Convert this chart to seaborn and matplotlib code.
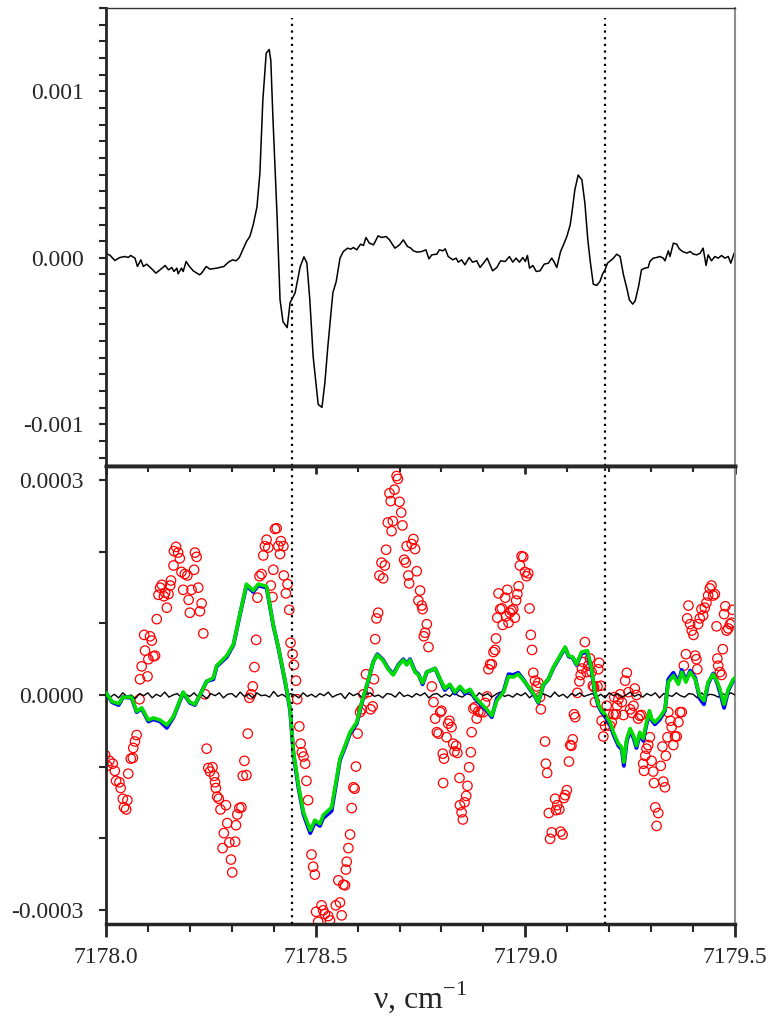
import numpy as np
import pandas as pd
import matplotlib
matplotlib.use("Agg")
import matplotlib.pyplot as plt
import seaborn as sns
from matplotlib.ticker import MultipleLocator, FuncFormatter

# ---------------- data ----------------
# top panel: spectrum (y in units of 1e-4)
top_x = [7178.000, 7178.010, 7178.021, 7178.033, 7178.045, 7178.053, 7178.059, 7178.069,
         7178.075, 7178.083, 7178.089, 7178.097, 7178.109, 7178.119, 7178.129, 7178.141,
         7178.149, 7178.157, 7178.162, 7178.169, 7178.172, 7178.180, 7178.184, 7178.191,
         7178.199, 7178.208, 7178.223, 7178.228, 7178.239, 7178.248, 7178.264, 7178.281,
         7178.292, 7178.302, 7178.310, 7178.318, 7178.328, 7178.335, 7178.343, 7178.351,
         7178.360, 7178.367, 7178.374, 7178.382, 7178.389, 7178.393, 7178.398, 7178.408,
         7178.415, 7178.422, 7178.432, 7178.439, 7178.451, 7178.463, 7178.472, 7178.479,
         7178.486, 7178.494, 7178.506, 7178.515, 7178.522, 7178.529, 7178.541, 7178.549,
         7178.558, 7178.566, 7178.576, 7178.584, 7178.590, 7178.598, 7178.607, 7178.614,
         7178.620, 7178.628, 7178.638, 7178.649, 7178.657, 7178.668, 7178.676, 7178.689,
         7178.700, 7178.709, 7178.719, 7178.727, 7178.733, 7178.742, 7178.753, 7178.763,
         7178.770, 7178.777, 7178.789, 7178.795, 7178.803, 7178.809, 7178.816, 7178.827,
         7178.835, 7178.840, 7178.848, 7178.856, 7178.866, 7178.874, 7178.884, 7178.892,
         7178.902, 7178.909, 7178.922, 7178.932, 7178.941, 7178.952, 7178.962, 7178.970,
         7178.978, 7178.986, 7178.994, 7179.000, 7179.005, 7179.010, 7179.018, 7179.026,
         7179.035, 7179.045, 7179.055, 7179.063, 7179.068, 7179.075, 7179.084, 7179.091,
         7179.099, 7179.107, 7179.111, 7179.118, 7179.126, 7179.135, 7179.142, 7179.149,
         7179.155, 7179.162, 7179.170, 7179.178, 7179.184, 7179.190, 7179.196, 7179.203,
         7179.210, 7179.218, 7179.226, 7179.234, 7179.242, 7179.248, 7179.256, 7179.262,
         7179.270, 7179.277, 7179.285, 7179.293, 7179.297, 7179.305, 7179.313, 7179.321,
         7179.329, 7179.333, 7179.341, 7179.345, 7179.353, 7179.361, 7179.367, 7179.375,
         7179.385, 7179.393, 7179.401, 7179.409, 7179.417, 7179.424, 7179.431, 7179.436,
         7179.444, 7179.452, 7179.460, 7179.468, 7179.476, 7179.484, 7179.490, 7179.498,
         7179.500]
top_y = [0.28, 0.14, -0.16, 0.02, 0.08, 0.02, 0.14, -0.02,
         -0.52, -0.12, -0.52, -0.38, -0.66, -0.92, -0.72, -0.46,
         -0.72, -0.58, -0.82, -0.62, -0.96, -0.62, -0.82, -0.22,
         -0.52, -0.78, -1.02, -0.92, -0.52, -0.68, -0.62, -0.52,
         -0.26, -0.12, -0.18, 0.02, 0.58, 0.98, 1.28, 1.98,
         3.05, 5.09, 9.46, 12.28, 12.51, 11.86, 8.44, 2.46,
         -2.51, -3.83, -4.19, -2.69, -2.10, -0.54, 0.06, -0.30,
         -2.51, -5.93, -8.80, -8.98, -7.49, -5.33, -2.10, -1.42,
         -0.02, 0.38, 0.58, 0.52, 0.62, 0.48, 0.82, 0.74,
         1.22, 0.88, 0.78, 1.32, 1.22, 1.28, 1.08, 0.58,
         0.78, 1.08, 0.68, 0.58, 0.42, 0.34, 0.38, 0.48,
         -0.06, 0.18, 0.22, 0.48, 0.42, 0.54, 0.08, -0.12,
         -0.02, -0.26, -0.12, -0.42, 0.02, -0.26, -0.18, -0.58,
         -0.26, -0.02, -0.78, -0.58, -0.18, -0.22, 0.08, -0.26,
         -0.02, -0.26, 0.02, -0.22, 0.14, -0.62, -0.46, -0.82,
         -0.78, -0.38, -0.32, -0.02, -0.22, -0.58, 0.38, 0.78,
         1.28, 1.98, 2.69, 4.07, 4.97, 4.67, 3.29, 1.08,
         -0.25, -1.58, -1.66, -1.42, -0.98, -0.72, -0.32, -0.18,
         -0.02, 0.22, 0.08, -1.02, -1.82, -2.52, -2.78, -2.58,
         -1.72, -0.72, -0.62, -0.58, -0.22, -0.02, 0.02, 0.08,
         -0.02, -0.18, 0.42, 0.08, 0.88, 0.82, 0.54, 0.38,
         0.28, 0.38, 0.22, 0.18, 0.28, 0.58, -0.46, 0.18,
         -0.18, 0.08, -0.02, 0.14, -0.02, 0.08, -0.32, 0.28,
         0.24]

# bottom panel: fit residuals (green / blue), in units of 1e-4
fit_x = [7178.000, 7178.014, 7178.030, 7178.041, 7178.061, 7178.073, 7178.085, 7178.101,
         7178.113, 7178.129, 7178.145, 7178.161, 7178.184, 7178.200, 7178.212, 7178.224,
         7178.240, 7178.256, 7178.264, 7178.288, 7178.304, 7178.320, 7178.335, 7178.351,
         7178.363, 7178.383, 7178.399, 7178.411, 7178.427, 7178.439, 7178.447, 7178.459,
         7178.471, 7178.487, 7178.498, 7178.510, 7178.518, 7178.538, 7178.558, 7178.570,
         7178.582, 7178.598, 7178.610, 7178.626, 7178.637, 7178.647, 7178.661, 7178.673,
         7178.685, 7178.697, 7178.709, 7178.717, 7178.725, 7178.737, 7178.745, 7178.755,
         7178.765, 7178.785, 7178.797, 7178.808, 7178.820, 7178.832, 7178.844, 7178.856,
         7178.868, 7178.880, 7178.896, 7178.908, 7178.920, 7178.932, 7178.948, 7178.960,
         7178.971, 7178.983, 7178.995, 7179.011, 7179.023, 7179.031, 7179.043, 7179.055,
         7179.067, 7179.079, 7179.095, 7179.103, 7179.113, 7179.122, 7179.134, 7179.148,
         7179.158, 7179.166, 7179.174, 7179.182, 7179.190, 7179.202, 7179.210, 7179.222,
         7179.230, 7179.235, 7179.242, 7179.250, 7179.258, 7179.265, 7179.273, 7179.281,
         7179.289, 7179.296, 7179.301, 7179.309, 7179.321, 7179.333, 7179.341, 7179.353,
         7179.365, 7179.373, 7179.383, 7179.393, 7179.405, 7179.416, 7179.426, 7179.436,
         7179.448, 7179.458, 7179.464, 7179.474, 7179.484, 7179.496, 7179.500]
green_y = [0.03, -0.09, -0.12, -0.03, -0.03, -0.23, -0.18, -0.35,
           -0.32, -0.35, -0.42, -0.30, 0.04, -0.10, -0.13, 0.00,
           0.19, 0.24, 0.41, 0.55, 0.71, 1.15, 1.55, 1.46,
           1.55, 1.52, 0.97, 0.67, 0.20, -0.20, -0.80, -1.27,
           -1.64, -1.89, -1.75, -1.80, -1.68, -1.57, -0.89, -0.71,
           -0.52, -0.38, -0.10, 0.22, 0.46, 0.56, 0.48, 0.36,
           0.28, 0.41, 0.49, 0.42, 0.49, 0.32, 0.28, 0.17,
           0.32, 0.37, 0.22, 0.09, 0.15, 0.04, 0.12, 0.04,
           0.08, -0.03, -0.13, -0.20, -0.29, -0.08, 0.04, 0.26,
           0.25, 0.29, 0.21, 0.09, -0.01, -0.10, 0.15, 0.22,
           0.39, 0.51, 0.67, 0.55, 0.53, 0.43, 0.60, 0.62,
           0.36, 0.04, -0.13, -0.22, -0.27, -0.38, -0.52, -0.68,
           -0.73, -0.94, -0.61, -0.47, -0.57, -0.71, -0.52, -0.61,
           -0.38, -0.22, -0.33, -0.38, -0.31, -0.20, 0.18, 0.27,
           0.15, 0.32, 0.18, 0.32, 0.22, -0.01, -0.08, 0.18,
           0.29, 0.18, 0.08, -0.13, 0.08, 0.22, 0.24]
blue_y = [0.03, -0.10, -0.14, -0.03, -0.04, -0.24, -0.19, -0.37,
          -0.34, -0.37, -0.46, -0.31, 0.03, -0.11, -0.14, 0.00,
          0.19, 0.22, 0.40, 0.53, 0.70, 1.14, 1.53, 1.44,
          1.53, 1.50, 0.97, 0.66, 0.19, -0.21, -0.82, -1.30,
          -1.67, -1.93, -1.78, -1.83, -1.72, -1.62, -0.91, -0.73,
          -0.54, -0.40, -0.11, 0.21, 0.46, 0.57, 0.49, 0.37,
          0.29, 0.42, 0.50, 0.43, 0.50, 0.33, 0.29, 0.15,
          0.32, 0.37, 0.21, 0.07, 0.14, 0.02, 0.11, 0.02,
          0.07, -0.05, -0.15, -0.22, -0.31, -0.05, 0.05, 0.29,
          0.28, 0.31, 0.22, 0.08, -0.02, -0.11, 0.14, 0.22,
          0.38, 0.50, 0.66, 0.54, 0.52, 0.42, 0.58, 0.60,
          0.34, 0.02, -0.15, -0.24, -0.30, -0.41, -0.55, -0.71,
          -0.76, -0.99, -0.64, -0.50, -0.60, -0.74, -0.55, -0.64,
          -0.41, -0.24, -0.35, -0.41, -0.34, -0.22, 0.22, 0.31,
          0.18, 0.35, 0.20, 0.34, 0.24, -0.05, -0.13, 0.16,
          0.30, 0.16, 0.04, -0.18, 0.06, 0.21, 0.23]

# bottom panel: noise baseline (step 0.01 cm-1), units of 1e-4
noise_x0, noise_step = 7178.0, 0.01
noise_y = [0.02, -0.03, 0.01, -0.04, 0.03, -0.02, 0.00, -0.05, 0.02, -0.01,
           0.03, -0.04, 0.01, -0.02, 0.04, -0.03, 0.00, 0.02, -0.04, 0.01,
           -0.02, 0.03, -0.03, 0.00, -0.05, 0.02, -0.01, 0.03, -0.04, 0.01,
           0.02, -0.03, 0.04, -0.02, 0.01, -0.04, 0.03, -0.01, 0.00, -0.03,
           0.05, -0.02, 0.01, -0.03, 0.02, 0.00, -0.04, 0.03, -0.02, 0.01,
           -0.03, 0.02, -0.01, 0.04, -0.03, 0.00, 0.02, -0.05, 0.03, -0.01,
           0.02, -0.03, 0.01, 0.03, -0.02, 0.00, -0.04, 0.02, 0.01, -0.03,
           0.04, -0.02, 0.00, -0.03, 0.02, -0.01, 0.03, -0.04, 0.01, 0.02,
           -0.03, 0.01, -0.02, 0.04, -0.01, -0.03, 0.02, 0.00, -0.04, 0.03,
           -0.01, 0.02, -0.03, 0.01, 0.04, -0.02, 0.00, -0.03, 0.02, -0.01,
           0.03, -0.04, 0.01, -0.02, 0.02, 0.00, -0.03, 0.04, -0.02, 0.01,
           -0.04, 0.02, -0.01, 0.03, -0.02, 0.00, 0.02, -0.03, 0.01, -0.04,
           0.03, -0.01, 0.02, -0.03, 0.00, 0.04, -0.02, 0.01, -0.03, 0.02,
           -0.01, 0.03, -0.04, 0.02, 0.00, -0.02, 0.03, -0.01, -0.03, 0.02,
           0.01, -0.04, 0.03, -0.02, 0.01, 0.00, -0.03, 0.02, -0.01, 0.03,
           0.00]

# bottom panel: red open circles, units of 1e-4
red_x = [7177.998, 7178.003, 7178.008, 7178.016, 7178.021, 7178.024, 7178.032, 7178.035, 7178.040, 7178.043,
         7178.048, 7178.051, 7178.053, 7178.059, 7178.064, 7178.065, 7178.069, 7178.073, 7178.080, 7178.081,
         7178.085, 7178.091, 7178.093, 7178.099, 7178.101, 7178.105, 7178.109, 7178.113, 7178.117, 7178.121,
         7178.125, 7178.129, 7178.133, 7178.138, 7178.141, 7178.145, 7178.149, 7178.153, 7178.155, 7178.161,
         7178.162, 7178.167, 7178.172, 7178.176, 7178.180, 7178.184, 7178.188, 7178.194, 7178.197, 7178.200,
         7178.204, 7178.210, 7178.212, 7178.216, 7178.220, 7178.224, 7178.228, 7178.232, 7178.236, 7178.240,
         7178.244, 7178.248, 7178.254, 7178.258, 7178.260, 7178.262, 7178.265, 7178.269, 7178.273, 7178.278,
         7178.281, 7178.286, 7178.289, 7178.294, 7178.298, 7178.301, 7178.308, 7178.310, 7178.313, 7178.318,
         7178.323, 7178.326, 7178.330, 7178.335, 7178.338, 7178.342, 7178.346, 7178.350, 7178.354, 7178.358,
         7178.361, 7178.366, 7178.371, 7178.375, 7178.379, 7178.383,
         7178.387, 7178.393, 7178.397, 7178.399, 7178.403, 7178.407, 7178.411, 7178.415, 7178.417, 7178.423,
         7178.424, 7178.429, 7178.433, 7178.437, 7178.440, 7178.445, 7178.448, 7178.453, 7178.456, 7178.461,
         7178.464, 7178.467, 7178.471, 7178.475, 7178.478, 7178.482, 7178.490, 7178.494, 7178.498, 7178.501,
         7178.506, 7178.514, 7178.518, 7178.522, 7178.530, 7178.534, 7178.548, 7178.554, 7178.558, 7178.562,
         7178.566, 7178.570, 7178.572, 7178.574, 7178.578, 7178.582, 7178.586, 7178.590, 7178.593, 7178.596,
         7178.600, 7178.606, 7178.610, 7178.614, 7178.620, 7178.626, 7178.631, 7178.636, 7178.639, 7178.642,
         7178.645, 7178.649, 7178.652, 7178.657, 7178.661, 7178.665, 7178.668, 7178.672, 7178.676, 7178.679,
         7178.681, 7178.684, 7178.688, 7178.693, 7178.696, 7178.700, 7178.704, 7178.707, 7178.711, 7178.715,
         7178.717, 7178.721, 7178.723, 7178.729, 7178.733, 7178.737, 7178.741, 7178.745, 7178.749, 7178.753,
         7178.755, 7178.758, 7178.761, 7178.765, 7178.769,
         7178.777, 7178.781, 7178.785, 7178.789, 7178.793, 7178.797, 7178.800, 7178.803, 7178.806, 7178.804,
         7178.812, 7178.816, 7178.819, 7178.824, 7178.828, 7178.831, 7178.835, 7178.838, 7178.843, 7178.844,
         7178.848, 7178.851, 7178.855, 7178.859, 7178.862, 7178.866, 7178.870, 7178.872, 7178.876, 7178.880,
         7178.884, 7178.888, 7178.893, 7178.900, 7178.904, 7178.909, 7178.912, 7178.916, 7178.920, 7178.924,
         7178.928, 7178.930, 7178.933, 7178.936, 7178.940, 7178.944, 7178.946, 7178.952, 7178.954, 7178.957,
         7178.960, 7178.963, 7178.967, 7178.971, 7178.975, 7178.978, 7178.981, 7178.984, 7178.987, 7178.991,
         7178.995, 7178.999, 7179.003, 7179.007, 7179.010, 7179.013, 7179.016, 7179.019, 7179.023, 7179.027,
         7179.031, 7179.035, 7179.037, 7179.047, 7179.049, 7179.052, 7179.056, 7179.059, 7179.063, 7179.071,
         7179.073, 7179.076, 7179.081, 7179.084, 7179.089, 7179.092, 7179.095, 7179.099, 7179.104, 7179.107,
         7179.110, 7179.113, 7179.116, 7179.119, 7179.124, 7179.129, 7179.132, 7179.135, 7179.138, 7179.142,
         7179.146, 7179.150, 7179.154, 7179.158, 7179.161, 7179.164, 7179.166, 7179.172, 7179.174, 7179.176,
         7179.180, 7179.182, 7179.186, 7179.190, 7179.194, 7179.198, 7179.202, 7179.206, 7179.210, 7179.212,
         7179.216, 7179.219, 7179.222, 7179.226, 7179.230, 7179.234, 7179.238, 7179.242, 7179.246, 7179.250,
         7179.254, 7179.258, 7179.261, 7179.265, 7179.269, 7179.273, 7179.277, 7179.281, 7179.283, 7179.286,
         7179.289, 7179.293, 7179.297, 7179.301, 7179.305, 7179.307, 7179.310, 7179.313, 7179.317, 7179.323,
         7179.327, 7179.329, 7179.333, 7179.335, 7179.339, 7179.341, 7179.346, 7179.349, 7179.353, 7179.357,
         7179.361, 7179.365, 7179.369, 7179.373, 7179.378, 7179.383, 7179.386, 7179.389, 7179.393, 7179.397,
         7179.401, 7179.405, 7179.408, 7179.410, 7179.412, 7179.416, 7179.420, 7179.424, 7179.428, 7179.432,
         7179.436, 7179.440, 7179.444, 7179.448, 7179.452, 7179.456, 7179.458, 7179.460, 7179.464, 7179.468,
         7179.471, 7179.474, 7179.477, 7179.480, 7179.484, 7179.488, 7179.492, 7179.494]
red_y = [-0.84, -0.99, -0.92, -0.96, -1.06, -1.20, -1.22, -1.30, -1.45, -1.57,
         -1.60, -1.47, -1.10, -0.89, -0.88, -0.74, -0.65, -0.56, -0.06, 0.22,
         0.40, 0.84, 0.62, 0.26, 0.50, 0.82, 0.76, 0.54, 0.55, 1.06,
         1.40, 1.50, 1.54, 1.38, 1.43, 1.22, 1.41, 1.53, 1.60, 1.81,
         2.01, 2.07, 1.99, 1.91, 1.72, 1.47, 1.69, 1.67, 1.33, 1.15,
         1.47, 1.75, 1.99, 1.93, 1.50, 1.17, 1.28, 0.86, 0.01, -0.75,
         -1.02, -1.07, -1.01, -1.13, -1.22, -1.30, -1.42, -1.45, -1.60, -2.14,
         -1.93, -1.54, -1.79, -2.06, -2.30, -2.48, -2.05, -1.82, -1.67, -1.58,
         -1.57, -1.13, -0.92, -1.12, -0.54, -0.04, 0.01, 0.12, 0.39, 0.77,
         1.36, 1.66, 1.69, 1.95, 2.08, 2.17,
         2.06, 1.53, 1.37, 1.75, 2.32, 2.33, 2.08, 1.97, 2.15, 2.08,
         1.67, 1.42, 1.55, 1.19, 0.73, 0.57, 0.42, 0.20, -0.06, -0.44,
         -0.68, -0.80, -0.86, -0.96, -1.20, -1.47, -2.23, -2.40, -2.51, -3.03,
         -3.17, -2.94, -3.01, -3.06, -3.09, -3.15, -2.94, -2.59, -2.90, -3.08,
         -2.65, -2.66, -2.44, -2.33, -2.14, -1.95, -1.58, -1.29, -1.31, -1.00,
         -0.54, -0.24, -0.20, 0.01, 0.29, 0.04, -0.20, -0.16, 0.22, 0.78,
         1.07, 1.15, 1.67, 1.85, 1.63, 1.81, 2.03, 2.41, 2.82, 2.71,
         2.29, 2.43, 2.87, 3.06, 3.02, 2.70, 2.55, 2.37, 1.89, 1.85,
         2.08, 1.67, 1.56, 2.11, 2.18, 2.04, 1.73, 1.32, 1.46, 1.25,
         1.20, 0.82, 0.87, 0.99, 0.67,
         0.12, -0.10, -0.33, -0.52, -0.54, -0.24, -0.22, -0.82, -0.89, -1.23,
         -0.59, -0.40, -0.36, -0.45, -0.68, -0.79, -0.71, -0.81, -1.16, -1.54,
         -1.64, -1.74, -1.50, -1.41, -1.27, -1.01, -0.80, -0.52, -0.19, -0.17,
         -0.33, -0.23, -0.24, -0.24, -0.11, -0.02, 0.36, 0.43, 0.43, 0.60,
         0.63, 0.79, 1.08, 1.42, 1.20, 1.21, 0.98, 1.36, 1.10, 1.47,
         1.01, 1.15, 1.18, 1.20, 1.08, 1.32, 1.41, 1.52, 1.81, 1.94,
         1.93, 1.72, 1.66, 1.70, 1.21, 0.84, 0.63, 0.31, 0.20, 0.12,
         0.17, -0.03, -0.20, -0.65, -0.96, -1.09, -1.65, -2.01, -1.92, -1.45,
         -1.61, -1.54, -1.60, -1.91, -1.95, -1.44, -1.40, -1.33, -0.93, -0.70,
         -0.71, -0.62, -0.27, -0.31, 0.03, 0.19, 0.28, 0.37, 0.46, 0.74,
         0.32, 0.41, 0.51, 0.32, 0.13, 0.11, -0.10, 0.12, 0.36, 0.45,
         0.13, -0.36, -0.58, -0.43, -0.15, -0.27, -0.43, -0.38, -0.27, -0.03,
         -0.27, -0.15, -0.06, 0.01, -0.10, -0.28, 0.20, 0.31, 0.04, -0.20,
         -0.25, -0.15, 0.09, 0.00, -0.33, -0.29, -0.28, -0.96, -1.06, -0.85,
         -0.75, -0.70, -0.59, -0.92, -1.07, -1.23, -1.57, -1.83, -1.65, -0.99,
         -0.72, -1.21, -1.29, -0.85, -0.59, -0.24, -0.36, -0.45, -0.70, -0.58,
         -0.58, -0.38, -0.24, -0.24, 0.41, 0.57, 1.07, 1.25, 0.99, 0.90,
         0.84, 0.55, 0.50, 0.36, 0.99, 1.07, 1.20, 1.11, 1.22, 1.29,
         1.39, 1.49, 1.53, 1.39, 1.41, 0.96, 0.51, 0.41, 0.32, 0.28,
         0.64, 1.13, 1.24, 0.90, 0.93, 0.99, 1.01, 1.19]

marker_lines = [7178.444, 7179.190]

SCALE = 1e-4

top_df = pd.DataFrame({"x": top_x, "y": np.array(top_y) * SCALE})
fit_df = pd.DataFrame({"x": fit_x, "green": np.array(green_y) * SCALE,
                       "blue": np.array(blue_y) * SCALE})
noise_df = pd.DataFrame({"x": noise_x0 + noise_step * np.arange(len(noise_y)),
                         "y": np.array(noise_y) * SCALE})
red_df = pd.DataFrame({"x": red_x, "y": np.array(red_y) * SCALE})

# ---------------- style ----------------
sns.set_style("ticks")
plt.rcParams["font.family"] = ["Liberation Serif", "DejaVu Serif"]
plt.rcParams["axes.unicode_minus"] = False
plt.rcParams["mathtext.fontset"] = "custom"
plt.rcParams["mathtext.rm"] = "Liberation Serif"

fig = plt.figure(figsize=(7.71, 10.24), dpi=100)
ax1 = fig.add_axes([0.1375, 0.5449, 0.8158, 0.4473])
ax2 = fig.add_axes([0.1375, 0.0977, 0.8158, 0.4472])

dots = (0, (1.0, 2.0))

# ---- top panel ----
sns.lineplot(data=top_df, x="x", y="y", ax=ax1, color="black", lw=1.1,
             sort=False, estimator=None)
for xv in marker_lines:
    ax1.axvline(xv, ymin=0, ymax=0.978, color="black", lw=1.6, ls=dots)
ax1.set_xlim(7178.0, 7179.5)
ax1.set_ylim(-0.00125, 0.0015)
ax1.yaxis.set_major_locator(MultipleLocator(0.001))
ax1.yaxis.set_minor_locator(MultipleLocator(0.0001))
ax1.yaxis.set_major_formatter(FuncFormatter(lambda v, p: f"{round(v, 6) + 0:.3f}"))
ax1.tick_params(axis="y", which="both", direction="out", length=5, width=1.5,
                labelsize=17, pad=11, left=True, right=False)
ax1.tick_params(axis="x", which="both", bottom=False, labelbottom=False)
ax1.set_xlabel("")
ax1.set_ylabel("")
ax1.spines["left"].set_linewidth(2.0)
ax1.spines["bottom"].set_linewidth(2.5)
ax1.spines["top"].set_linewidth(1.0)
ax1.spines["top"].set_color("#333333")
ax1.spines["right"].set_linewidth(1.5)
ax1.spines["right"].set_color("#8c8c8c")

# ---- bottom panel ----
sns.scatterplot(data=red_df, x="x", y="y", ax=ax2, marker="o", s=46,
                facecolors="none", edgecolor="#ff0000", linewidth=0.9, zorder=2)
sns.lineplot(data=noise_df, x="x", y="y", ax=ax2, color="black", lw=1.0,
             sort=False, estimator=None, zorder=3)
sns.lineplot(data=fit_df, x="x", y="blue", ax=ax2, color="#0000ff", lw=2.8,
             sort=False, estimator=None, zorder=4)
sns.lineplot(data=fit_df, x="x", y="green", ax=ax2, color="#00dd00", lw=2.6,
             sort=False, estimator=None, zorder=5)
for xv in marker_lines:
    ax2.axvline(xv, color="black", lw=1.6, ls=dots, zorder=6)

ax2.set_xlim(7178.0, 7179.5)
ax2.set_ylim(-0.00032, 0.00032)
ax2.yaxis.set_major_locator(MultipleLocator(0.0003))
ax2.yaxis.set_minor_locator(MultipleLocator(0.0001))
ax2.yaxis.set_major_formatter(FuncFormatter(lambda v, p: f"{round(v, 7) + 0:.4f}"))
ax2.xaxis.set_major_locator(MultipleLocator(0.5))
ax2.xaxis.set_minor_locator(MultipleLocator(0.1))
ax2.xaxis.set_major_formatter(FuncFormatter(lambda v, p: f"{v:.1f}"))
ax2.tick_params(axis="y", which="both", direction="out", length=5, width=1.5,
                labelsize=17, pad=11, left=True, right=False)
ax2.tick_params(axis="x", which="major", direction="out", length=9.5, width=2,
                labelsize=17, pad=7, bottom=True, top=False)
ax2.tick_params(axis="x", which="minor", direction="out", length=6, width=1.5,
                bottom=True, top=False)
sec = ax2.secondary_xaxis("top")
sec.xaxis.set_major_locator(MultipleLocator(0.5))
sec.xaxis.set_minor_locator(MultipleLocator(0.1))
sec.tick_params(axis="x", which="major", direction="in", length=6, width=2, labeltop=False)
sec.tick_params(axis="x", which="minor", direction="in", length=4.5, width=1.5)
sec.spines["top"].set_linewidth(2.5)

ax2.set_ylabel("")
ax2.set_xlabel(r"ν, cm$^{\mathregular{-1}}$", fontsize=23, labelpad=8)
ax2.spines["left"].set_linewidth(2.0)
ax2.spines["bottom"].set_linewidth(2.5)
ax2.spines["top"].set_linewidth(2.5)
ax2.spines["right"].set_linewidth(1.5)
ax2.spines["right"].set_color("#8c8c8c")
if ax2.get_legend() is not None:
    ax2.get_legend().remove()

fig.savefig("out.png", dpi=100)
